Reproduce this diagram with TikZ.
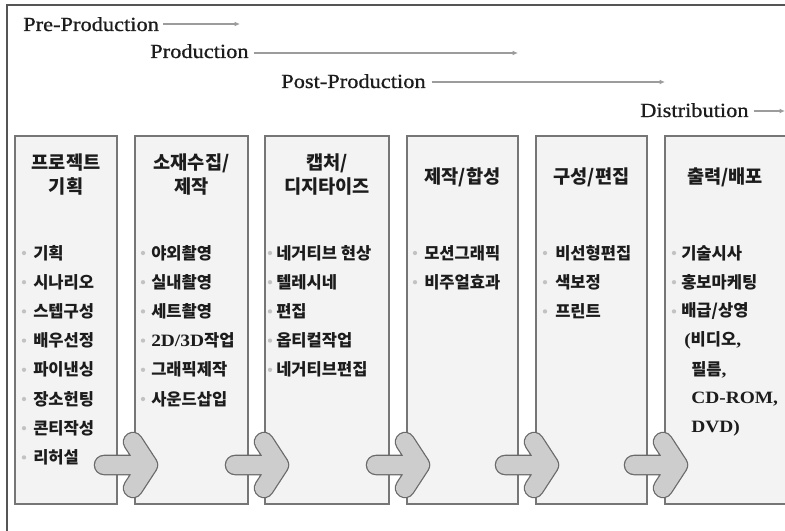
\documentclass[tikz,border=0pt]{standalone}
\usepackage{fontspec}
\newfontfamily\lat[FakeStretch=1.12]{Liberation Serif}
\newfontfamily\labf[FakeStretch=1.12,FakeBold=0.8]{Liberation Serif}
\newfontfamily\kr{Noto Sans CJK KR}
\usetikzlibrary{arrows.meta,calc}
\definecolor{boxfill}{HTML}{F3F3F3}
\definecolor{boxline}{HTML}{767676}
\definecolor{arrfill}{HTML}{CDCDCD}
\definecolor{arrline}{HTML}{6A6A6A}
\definecolor{thinc}{HTML}{9C9C9C}
\definecolor{dotc}{HTML}{C2C2C2}
\definecolor{framec}{HTML}{555555}
\definecolor{ink}{HTML}{1C1C1C}
\newcommand\latb[1]{{\lat\bfseries\fontsize{13}{14}\selectfont #1}}
\begin{document}
\begin{tikzpicture}[x=0.75pt,y=-0.75pt,
  box/.style={draw=boxline, fill=boxfill, line width=0.8pt, inner sep=0pt, outer sep=0pt, minimum height=276pt},
  hdr/.style={font=\kr\bfseries\fontsize{14}{18}\selectfont, align=center, inner sep=0pt, text=ink},
  itm/.style={font=\kr\bfseries\fontsize{12.4}{14}\selectfont, anchor=west, inner sep=0pt, text=ink},
  lab/.style={font=\labf\fontsize{15}{18}\selectfont, anchor=base west, inner sep=0pt, text=ink},
  tl/.style={draw=thinc, line width=1.4pt, -{Latex[length=4pt,width=3.5pt]}},
  chevout/.style={draw=arrline, line width=15.4pt, line cap=round, line join=round},
  chevin/.style={draw=arrfill, line width=13.5pt, line cap=round, line join=round},
  bul/.style={fill=dotc}
]
\useasboundingbox (0,0) rectangle (785,531);
\fill[white] (0,0) rectangle (785,531);
% outer frame
\draw[framec, line width=1.4pt] (7,545) -- (7,5) -- (800,5);

% phase labels
\node[lab] (pre) at (23,31) {Pre-Production};
\node[lab] (pro) at (150,58) {Production};
\node[lab] (post) at (281,88) {Post-Production};
\node[lab] (dist) at (640,117) {Distribution};
\coordinate (preE) at (240,24);
\coordinate (proE) at (518,53);
\coordinate (postE) at (665,82);
\coordinate (distE) at (785,111);
\draw[tl] ($(pre.east |- preE)+(4,0)$) -- (preE);
\draw[tl] ($(pro.east |- proE)+(5,0)$) -- (proE);
\draw[tl] ($(post.east |- postE)+(6,0)$) -- (postE);
\draw[tl] ($(dist.east |- distE)+(5,0)$) -- (distE);

% boxes
\node[box, minimum width=76.5pt] (b1) at (66,320) {};
\node[box, minimum width=84.75pt] (b2) at (191.5,320) {};
\node[box, minimum width=93pt] (b3) at (327,320) {};
\node[box, minimum width=83.25pt] (b4) at (462.5,320) {};
\node[box, minimum width=83.25pt] (b5) at (591.5,320) {};
\node[box, minimum width=108.75pt] (b6) at (737.5,320) {};

% headers
\node[hdr] (h1) at (66,175) {프로젝트\\기획};
\node[hdr] (h2) at (191.5,175) {소재수집/\\제작};
\node[hdr] (h3) at (327,175) {캡처/\\디지타이즈};
\node[hdr] (h4) at (462.5,177) {제작/합성};
\node[hdr] (h5) at (591.5,177) {구성/편집};
\node[hdr] (h6) at (725,177) {출력/배포};

% items
\foreach \t [count=\i] in {기획,시나리오,스텝구성,배우선정,파이낸싱,장소헌팅,콘티작성,리허설}{
  \node[itm] (p1i\i) at (33,{253+29.2*(\i-1)}) {\t};
  \fill[bul] ($(p1i\i.west)+(-9,0)$) circle[radius=1.6pt];
}
\foreach \t [count=\i] in {야외촬영,실내촬영,세트촬영,{\latb{2D/3D}작업},그래픽제작,사운드삽입}{
  \node[itm] (p2i\i) at (151,{253+29.2*(\i-1)}) {\t};
  \fill[bul] ($(p2i\i.west)+(-8,0)$) circle[radius=1.6pt];
}
\foreach \t [count=\i] in {네거티브 현상,텔레시네,편집,옵티컬작업,네거티브편집}{
  \node[itm] (p3i\i) at (276,{253+29.2*(\i-1)}) {\t};
  \fill[bul] ($(p3i\i.west)+(-6,0)$) circle[radius=1.6pt];
}
\foreach \t [count=\i] in {모션그래픽,비주얼효과}{
  \node[itm] (p4i\i) at (424,{253+29.2*(\i-1)}) {\t};
  \fill[bul] ($(p4i\i.west)+(-9,0)$) circle[radius=1.6pt];
}
\foreach \t [count=\i] in {비선형편집,색보정,프린트}{
  \node[itm] (p5i\i) at (555,{253+29.2*(\i-1)}) {\t};
  \fill[bul] ($(p5i\i.west)+(-10,0)$) circle[radius=1.6pt];
}
\foreach \t [count=\i] in {기술시사,홍보마케팅,배급/상영}{
  \node[itm] (p6i\i) at (681,{253+29.2*(\i-1)}) {\t};
  \fill[bul] ($(p6i\i.west)+(-7,0)$) circle[radius=1.6pt];
}
\node[itm] (p6i4) at (684,{253+29.2*3}) {\latb{(}비디오\latb{,}};
\node[itm] (p6i5) at (691,{253+29.2*4}) {필름\latb{,}};
\node[itm] (p6i6) at (691,{253+29.2*5}) {\latb{CD-ROM,}};
\node[itm] (p6i7) at (691,{253+29.2*6}) {\latb{DVD)}};

% chevron arrows between boxes
\foreach \a in {b1,b2,b3,b4,b5}{
  \coordinate (c) at (\a.east |- 0,465);
  \path[chevout] ($(c)+(-13,0)$) -- ($(c)+(28,0)$)
       ($(c)+(16,-23)$) -- ($(c)+(31,0)$) -- ($(c)+(16,23)$);
  \path[chevin] ($(c)+(-13,0)$) -- ($(c)+(28,0)$)
       ($(c)+(16,-23)$) -- ($(c)+(31,0)$) -- ($(c)+(16,23)$);
}
\end{tikzpicture}
\end{document}
